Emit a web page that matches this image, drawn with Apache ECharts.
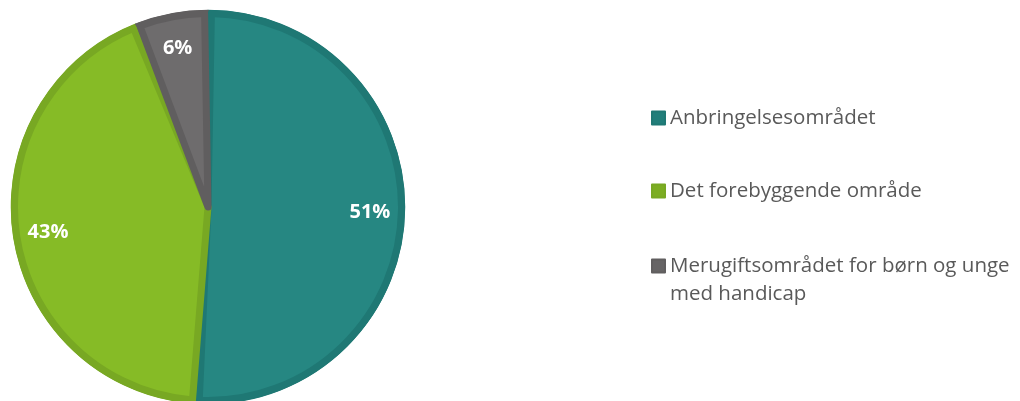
<!DOCTYPE html>
<html>
<head>
<meta charset="utf-8">
<script src="https://cdn.jsdelivr.net/npm/echarts@6/dist/echarts.min.js"></script>
<style>
    html, body {margin: 0; padding: 0; background: #fff;}
    #chart {width: 1020px; height: 401px;}
</style>
</head>
<body>
<div id="chart"></div>
<script>
var categories = ['Anbringelsesområdet', 'Det forebyggende område', 'Merugiftsområdet for børn og unge'];
var secondLines = ['', '', 'med handicap'];
var values = [51, 43, 6];
var fillColors = ['#268782', '#86bb26', '#6e6c6d'];
var edgeColors = ['#1f7874', '#78a823', '#605e5f'];
var legendColors = ['#217e7a', '#7cad22', '#666465'];

var chart = echarts.init(document.getElementById('chart'));

var pieData = categories.map(function (name, i) {
    return {
        name: name,
        value: values[i],
        itemStyle: {color: fillColors[i], borderColor: edgeColors[i]}
    };
});

var edgeData = categories.map(function (name, i) {
    return {name: name, value: values[i], itemStyle: {color: edgeColors[i], borderColor: edgeColors[i]}};
});

var labelData = categories.map(function (name, i) {
    return {name: name, value: values[i]};
});

// one legend per entry so each one can sit where the reference puts it
var legendTops = [101, 174, 247];
var legends = categories.map(function (name, i) {
    var extra = secondLines[i];
    return {
        orient: 'vertical',
        left: 646,
        top: extra ? legendTops[i] - 28 : legendTops[i],
        itemWidth: 13,
        itemHeight: 13,
        itemGap: 0,
        icon: 'rect',
        selectedMode: false,
        data: [{name: name, itemStyle: {color: legendColors[i]}}],
        // empty line on top keeps the icon level with the first text line
        formatter: function (n) {
            return extra ? '\n' + n + '\n' + extra : n;
        },
        textStyle: {
            color: '#595959',
            fontFamily: 'Open Sans',
            fontSize: 20.5,
            lineHeight: extra ? 28 : 24
        }
    };
});

var option = {
    animation: false,
    legend: legends,
    series: [
        {
            // darker slices underneath, show through as the slice edges
            type: 'pie',
            center: [208, 207],
            radius: [0, 196.5],
            startAngle: 90,
            clockwise: true,
            silent: true,
            z: 1,
            itemStyle: {borderWidth: 1.5},
            label: {show: false},
            labelLine: {show: false},
            data: edgeData
        },
        {
            type: 'pie',
            center: [208, 207],
            radius: [0, 193.5],
            startAngle: 90,
            clockwise: true,
            silent: true,
            padAngle: 2,
            z: 2,
            itemStyle: {borderWidth: 7, borderJoin: 'round'},
            label: {show: false},
            labelLine: {show: false},
            data: pieData
        },
        {
            // transparent ring only used to place the percentage labels
            type: 'pie',
            center: [208, 207],
            radius: [122, 196],
            startAngle: 90,
            clockwise: true,
            silent: true,
            z: 3,
            itemStyle: {color: 'rgba(0,0,0,0)'},
            label: {
                show: true,
                position: 'inside',
                formatter: '{c}%',
                color: '#fff',
                fontFamily: 'Open Sans',
                fontWeight: 'bold',
                fontSize: 20
            },
            labelLine: {show: false},
            data: labelData
        }
    ]
};

chart.setOption(option);
</script>
</body>
</html>
